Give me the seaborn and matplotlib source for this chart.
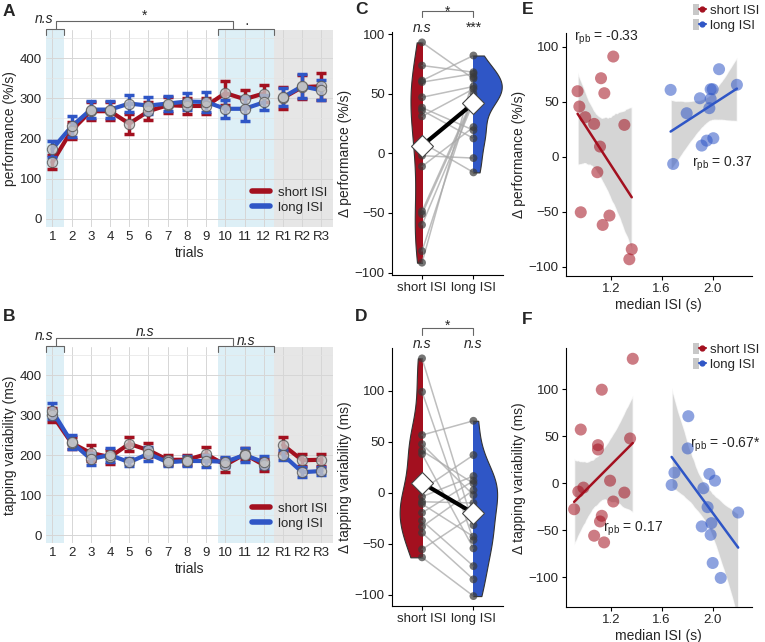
import numpy as np
import pandas as pd
import matplotlib
matplotlib.use('Agg')
import matplotlib.pyplot as plt
from matplotlib.lines import Line2D
from matplotlib.patches import Patch, Rectangle
from matplotlib.legend_handler import HandlerTuple
import seaborn as sns

sns.set_style('white')
plt.rcParams['font.family'] = ['Liberation Sans', 'DejaVu Sans']
plt.rcParams['mathtext.fontset'] = 'custom'
plt.rcParams['mathtext.rm'] = 'Liberation Sans'
plt.rcParams['mathtext.it'] = 'Liberation Sans:italic'

RED = '#A3101F'
BLUE = '#2F56C6'
conds = ['short ISI', 'long ISI']

# A / B: trial means and standard errors
trials = ['1', '2', '3', '4', '5', '6', '7', '8', '9', '10', '11', '12', 'R1', 'R2', 'R3']
perf_short_mean = [141, 220, 268, 268, 237, 268, 283, 281, 281, 313, 298, 312, 301, 328, 330]
perf_short_se = [17, 20, 22, 22, 25, 22, 20, 20, 20, 30, 22, 22, 27, 30, 33]
perf_long_mean = [174, 230, 272, 272, 287, 282, 287, 292, 291, 274, 274, 290, 303, 330, 320]
perf_long_se = [20, 25, 22, 22, 22, 22, 18, 22, 25, 22, 30, 18, 22, 30, 25]

var_short_mean = [300, 230, 205, 195, 228, 212, 188, 188, 202, 175, 202, 175, 225, 187, 188]
var_short_se = [17, 15, 20, 18, 18, 18, 12, 12, 18, 18, 15, 15, 20, 15, 15]
var_long_mean = [310, 232, 190, 200, 182, 203, 182, 185, 185, 183, 200, 182, 200, 157, 160]
var_long_se = [20, 18, 15, 18, 10, 18, 10, 12, 15, 12, 18, 15, 12, 12, 10]

# C / D: per-participant change (paired short / long)
dperf_short = [93, 73.6, 61, 59.7, 47, 38.3, 36, 31, 9, -2, -11, -48.6, -51, -60, -82, -91.7]
dperf_long = [62.5, 68, 82, 66.7, 56, 19.4, 12.5, 54, -16, -4, 22, 47, 45, 43, 50, 64]
dvar_short = [131.8, 99, 56.6, 47.7, 41.2, 38, 3, -3.9, -8.8, -11, -19.6, -27.4, -33.3, -39.2, -55.5, -63.3]
dvar_long = [-31.7, -46.4, 70.6, -2.3, 9.2, -54.5, 37, 16.4, -10, -43, 11.8, -71.9, 2.6, -84.9, -22, -101.3]

# E: median ISI vs change in performance
e_isi_short = [0.94, 0.954, 1.0, 0.965, 1.07, 1.095, 1.116, 1.124, 1.137, 1.15, 1.19, 1.22, 1.307, 1.365, 1.346]
e_perf_short = [59.4, 45.5, 35.8, -50.6, 29.7, -14.2, 9.1, 71.2, -62.1, 57.6, -53.6, 90.9, 28.8, -84.2, -93.3]
e_isi_long = [1.67, 1.69, 1.796, 1.90, 1.914, 1.953, 1.974, 1.984, 1.984, 2.0, 2.005, 2.05, 2.19]
e_perf_long = [60.6, -6.7, 39.4, 53, 10, 14.5, 44, 61.2, 52.4, 61.2, 16.7, 79.4, 65.2]

# F: median ISI vs change in tapping variability
f_isi_short = [1.373, 1.13, 0.965, 1.352, 1.10, 1.10, 0.913, 0.946, 0.986, 1.195, 1.307, 1.22, 1.13, 1.116, 1.07, 1.148]
f_var_short = [132.5, 99.6, 57.2, 47.7, 40.6, 36, -27.6, -8.8, -4.6, 2.8, -9.9, -19.4, -34.6, -40.6, -55.8, -62.9]
f_isi_long = [1.809, 1.804, 1.70, 1.678, 1.927, 1.974, 2.018, 1.96, 1.914, 1.99, 1.984, 2.20, 2.0, 2.063]
f_var_long = [71.4, 37.1, 11.3, -1.8, -5.3, 9.9, 2.8, -25.4, -45.9, -42.4, -54.8, -31.1, -84.8, -100.7]

fig = plt.figure(figsize=(7.65, 6.42), dpi=100)
axA = fig.add_axes([0.0601, 0.6464, 0.3752, 0.3069])
axB = fig.add_axes([0.0601, 0.1542, 0.3752, 0.3053])
axC = fig.add_axes([0.512, 0.5717, 0.1459, 0.379])
axD = fig.add_axes([0.512, 0.0561, 0.1459, 0.4019])
axE = fig.add_axes([0.7395, 0.5701, 0.2431, 0.378])
axF = fig.add_axes([0.7395, 0.054, 0.2431, 0.4034])

LAB = 10
TICK = 9.5


def trial_panel(ax, ms, ss, ml, sl, ylabel, notes):
    pos = np.arange(1, len(trials) + 1)
    ax.axvspan(0.67, 1.6, color='#DDEFF6', lw=0, zorder=0.2)
    ax.axvspan(9.6, 12.55, color='#DDEFF6', lw=0, zorder=0.2)
    ax.axvspan(12.55, 15.6, color='#E6E6E6', lw=0, zorder=0.2)
    for m, se, col in [(ms, ss, RED), (ml, sl, BLUE)]:
        df = pd.DataFrame({'pos': pos, 'val': m, 'seg': ['train'] * 12 + ['ret'] * 3})
        sns.lineplot(data=df, x='pos', y='val', units='seg', estimator=None,
                     color=col, lw=3, legend=False, ax=ax, zorder=3)
        ax.errorbar(pos, m, yerr=se, fmt='none', ecolor=col, elinewidth=2.5,
                    capsize=3.5, capthick=2.5, zorder=3)
        sns.scatterplot(x=pos, y=m, s=55, color='#C4C4C4', edgecolor='#555555',
                        linewidth=0.8, alpha=0.8, ax=ax, zorder=4)
    ax.set_xlim(0.67, 15.6)
    ax.set_ylim(-20, 470)
    ax.set_xticks(pos)
    ax.set_xticklabels(trials, fontsize=TICK)
    ax.set_yticks([0, 100, 200, 300, 400])
    ax.set_yticks([50, 150, 250, 350, 450], minor=True)
    ax.tick_params(axis='both', length=0, labelsize=TICK, pad=3)
    ax.grid(which='major', color='#D6D6D6', lw=0.7)
    ax.grid(which='minor', axis='y', color='#E4E4E4', lw=0.5)
    ax.set_axisbelow(True)
    for s in ax.spines.values():
        s.set_visible(False)
    ax.set_xlabel('trials', fontsize=LAB, labelpad=2)
    ax.set_ylabel(ylabel, fontsize=LAB, labelpad=2)
    handles = [Line2D([], [], color=RED, lw=4), Line2D([], [], color=BLUE, lw=4)]
    ax.legend(handles, conds, loc='lower right', bbox_to_anchor=(1.0, 0.04), frameon=False,
              fontsize=TICK, handlelength=1.4, handletextpad=0.6, labelspacing=0.2, borderaxespad=0)
    # significance braces above the plot
    kw = dict(color='#666666', lw=0.8, clip_on=False)
    ax.plot([0.67, 0.67, 1.6, 1.6], [457, 473, 473, 457], **kw)
    ax.plot([9.6, 9.6, 12.55, 12.55], [457, 473, 473, 457], **kw)
    ax.plot([1.2, 1.2, 10.4, 10.4], [473, 493, 493, 473], **kw)
    ax.text(0.57, 497, notes[0], ha='center', va='center', style='italic', fontsize=LAB)
    ax.text(5.8, notes[3], notes[1], ha='center', va='center', fontsize=LAB,
            style='normal' if notes[1] != 'n.s' else 'italic')
    ax.text(11.1, 486, notes[2], ha='center', va='center', fontsize=LAB,
            style='normal' if notes[2] != 'n.s' else 'italic')


trial_panel(axA, perf_short_mean, perf_short_se, perf_long_mean, perf_long_se,
            'performance (%/s)', ['n.s', '*', '\u00b7', 506])
trial_panel(axB, var_short_mean, var_short_se, var_long_mean, var_long_se,
            'tapping variability (ms)', ['n.s', 'n.s', 'n.s', 508])


def paired_panel(ax, vs, vl, width, ylim, yticks, ylabel, star_y, top_y, labels):
    n = len(vs)
    df = pd.DataFrame({'cond': np.repeat(conds, n), 'val': np.r_[vs, vl],
                       'pid': np.tile(np.arange(n), 2)})
    sns.violinplot(data=df, x='cond', y='val', hue='cond', order=conds, hue_order=conds,
                   dodge=False, inner=None, cut=0, density_norm='area', common_norm=True,
                   width=width, bw_adjust=0.8, palette={conds[0]: RED, conds[1]: BLUE},
                   saturation=1, linewidth=0.8, linecolor='#333333', legend=False, ax=ax)
    # keep the outer half of each violin
    for coll, (x0, x1) in zip(ax.collections[:2], [(-3, 0), (1, 4)]):
        coll.set_clip_path(Rectangle((x0, -1000), x1 - x0, 3000, transform=ax.transData))
    sns.lineplot(data=df, x='cond', y='val', units='pid', estimator=None, color='#A8A8A8',
                 alpha=0.75, lw=1.1, legend=False, ax=ax, zorder=3)
    sns.scatterplot(data=df, x='cond', y='val', color='#3A3A3A', alpha=0.7, s=32,
                    edgecolor='none', legend=False, ax=ax, zorder=4)
    sns.pointplot(data=df, x='cond', y='val', order=conds, errorbar=None, color='black',
                  markers='D', markersize=11, markerfacecolor='white',
                  markeredgecolor='#444444', markeredgewidth=0.8, linewidth=3, ax=ax, zorder=5)
    ax.set_xlim(-0.59, 1.58)
    ax.set_ylim(*ylim)
    ax.set_yticks(yticks)
    ax.set_xlabel('')
    ax.set_ylabel(ylabel, fontsize=LAB, labelpad=2)
    ax.tick_params(axis='both', length=3, width=0.8, labelsize=TICK, color='black',
                   direction='out', bottom=True, left=True, pad=2)
    sns.despine(ax=ax)
    for s in ['left', 'bottom']:
        ax.spines[s].set_color('black')
        ax.spines[s].set_linewidth(0.8)
    kw = dict(color='#666666', lw=0.8, clip_on=False)
    ax.plot([0, 0, 1, 1], [star_y[0], star_y[1], star_y[1], star_y[0]], **kw)
    ax.text(0.5, star_y[2], '*', ha='center', va='baseline', fontsize=LAB)
    ax.text(0, top_y, labels[0], ha='center', va='center', fontsize=LAB,
            style='italic' if labels[0] == 'n.s' else 'normal')
    ax.text(1, top_y, labels[1], ha='center', va='center', fontsize=LAB,
            style='italic' if labels[1] == 'n.s' else 'normal')


paired_panel(axC, dperf_short, dperf_long, 1.1, (-102, 102), [-100, -50, 0, 50, 100],
             '\u0394 performance (%/s)', (114, 119, 115.5), 105, ['n.s', '***'])
paired_panel(axD, dvar_short, dvar_long, 0.92, (-111, 142), [-100, -50, 0, 50, 100],
             '\u0394 tapping variability (ms)', (155, 162, 160), 146, ['n.s', 'n.s'])


def corr_panel(ax, xs, ys, xl, yl, ylim, yticks, ylabel, notes, leg_anchor):
    for x, y, col in [(xs, ys, RED), (xl, yl, BLUE)]:
        sns.regplot(x=np.array(x), y=np.array(y), scatter=False, ci=95, seed=1, color=col,
                    line_kws={'lw': 1.8, 'zorder': 3}, ax=ax)
        band = ax.collections[-1]
        band.set_facecolor('#C8C8C8')
        band.set_alpha(0.75)
        band.set_zorder(1)
    for x, y, col in [(xs, ys, RED), (xl, yl, BLUE)]:
        sns.scatterplot(x=x, y=y, color=col, alpha=0.55, s=75, edgecolor='none',
                        legend=False, ax=ax, zorder=4)
    ax.set_xlim(0.847, 2.306)
    ax.set_ylim(*ylim)
    ax.set_xticks([1.2, 1.6, 2.0])
    ax.set_xticklabels(['1.2', '1.6', '2.0'])
    ax.set_yticks(yticks)
    ax.set_xlabel('median ISI (s)', fontsize=LAB, labelpad=2)
    ax.set_ylabel(ylabel, fontsize=LAB, labelpad=2)
    ax.tick_params(axis='both', length=3, width=0.8, labelsize=TICK, color='black',
                   direction='out', bottom=True, left=True, pad=2)
    sns.despine(ax=ax)
    for s in ['left', 'bottom']:
        ax.spines[s].set_color('black')
        ax.spines[s].set_linewidth(0.8)
    for tx, ty, txt in notes:
        ax.text(tx, ty, txt, ha='center', va='center', fontsize=LAB)
    gray = Patch(facecolor='#C8C8C8', edgecolor='none')
    handles = [(gray, Line2D([], [], color=RED, lw=1.5, marker='o', ms=3.5)),
               (gray, Line2D([], [], color=BLUE, lw=1.5, marker='o', ms=3.5))]
    ax.legend(handles, conds, handler_map={tuple: HandlerTuple(ndivide=None)},
              loc='upper right', bbox_to_anchor=leg_anchor, frameon=False, fontsize=TICK,
              handlelength=1.0, handleheight=0.9, handletextpad=0.3, labelspacing=0.15,
              borderaxespad=0, borderpad=0)


corr_panel(axE, e_isi_short, e_perf_short, e_isi_long, e_perf_long, (-108.5, 112),
           [-100, -50, 0, 50, 100], '\u0394 performance (%/s)',
           [(1.163, 108, r'r$_{\mathrm{pb}}$ = -0.33'), (2.07, -7, r'r$_{\mathrm{pb}}$ = 0.37')],
           (1.04, 1.12))
corr_panel(axF, f_isi_short, f_var_short, f_isi_long, f_var_long, (-132, 143.6),
           [-100, -50, 0, 50, 100], '\u0394 tapping variability (ms)',
           [(1.375, -48, r'r$_{\mathrm{pb}}$ = 0.17'), (2.1, 41, r'r$_{\mathrm{pb}}$ = -0.67*')],
           (1.04, 1.02))

for letter, x, y in [('A', 3, 4), ('B', 3, 309), ('C', 355, 2), ('D', 355, 309),
                     ('E', 522, 2), ('F', 522, 312)]:
    fig.text(x / 765, 1 - y / 642, letter, fontsize=12.5, fontweight='bold',
             ha='left', va='top')

fig.savefig('out.png', dpi=100)
